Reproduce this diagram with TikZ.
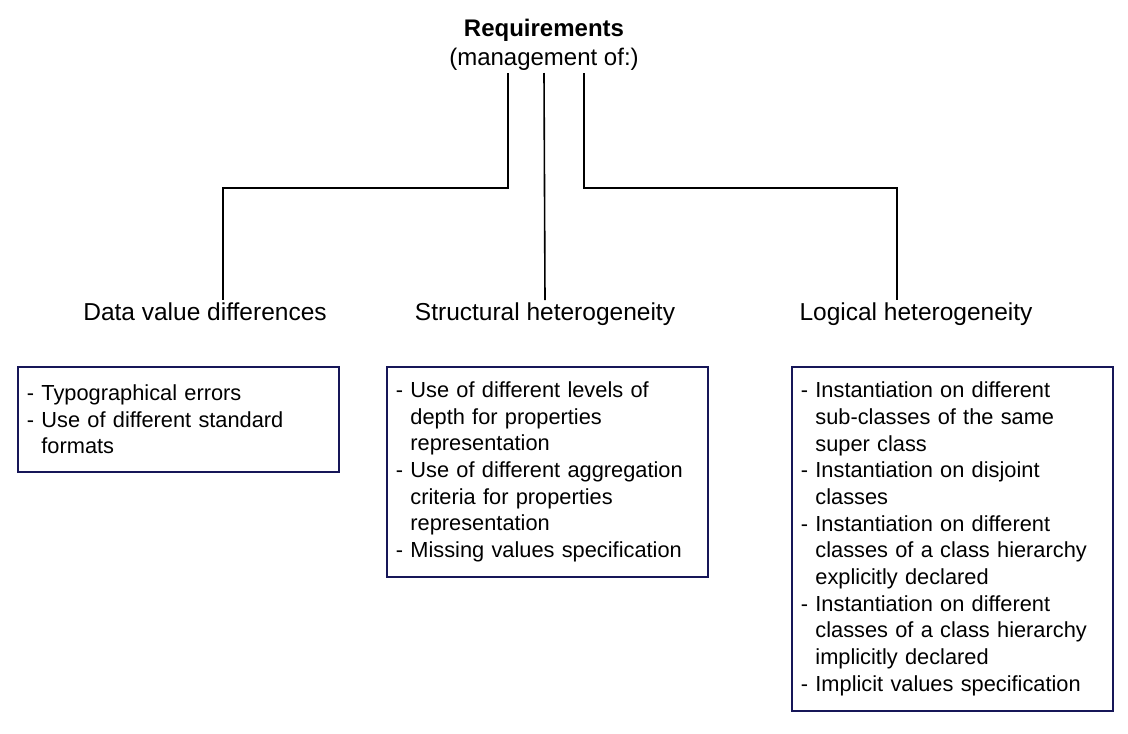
\documentclass[tikz,border=0pt]{standalone}
\usepackage{fontspec}
\setmainfont{Liberation Sans}
\usetikzlibrary{positioning}
\definecolor{boxnavy}{RGB}{22,22,88}

\begin{document}
\begin{tikzpicture}[x=1pt,y=-1pt,line width=1.6pt,
    head node/.style={font=\fontsize{24}{29}\selectfont,align=center,inner sep=2pt},
    kind node/.style={font=\fontsize{24.5}{29}\selectfont,inner sep=2pt,anchor=north},
    list node/.style={draw=boxnavy,line width=1.8pt,anchor=north west,text width=303pt,
                      inner xsep=9pt,align=left,font=\fontsize{21.8}{26.7}\selectfont}]
  \useasboundingbox (0,0) rectangle (1128,734);
  \node[head node,anchor=south] (req) at (544,73) {\textbf{Requirements}\\(management of:)};
  \node[kind node] (dvd) at (205,300) {Data value differences};
  \node[kind node] (sh) at (545,300) {Structural heterogeneity};
  \node[kind node] (lh) at (916,300) {Logical heterogeneity};
  \node[list node,minimum height=105pt] (dvdlist) at (17,366)
    {- Typographical errors\\
     - Use of different standard\\
     \phantom{- }formats};
  \node[list node,minimum height=210pt] (shlist) at (386,366)
    {- Use of different levels of\\
     \phantom{- }depth for properties\\
     \phantom{- }representation\\
     - Use of different aggregation\\
     \phantom{- }criteria for properties\\
     \phantom{- }representation\\
     - Missing values specification};
  \node[list node,minimum height=344pt] (lhlist) at (791,366)
    {- Instantiation on different\\
     \phantom{- }sub-classes of the same\\
     \phantom{- }super class\\
     - Instantiation on disjoint\\
     \phantom{- }classes\\
     - Instantiation on different\\
     \phantom{- }classes of a class hierarchy\\
     \phantom{- }explicitly declared\\
     - Instantiation on different\\
     \phantom{- }classes of a class hierarchy\\
     \phantom{- }implicitly declared\\
     - Implicit values specification};
  % connectors
  \draw ([xshift=-36pt]req.south) -- ++(0,115) -| ([xshift=18pt]dvd.north);
  \draw (req.south) -- (sh.north);
  \draw ([xshift=40pt]req.south) -- ++(0,115) -| ([xshift=-19pt]lh.north);
\end{tikzpicture}
\end{document}
